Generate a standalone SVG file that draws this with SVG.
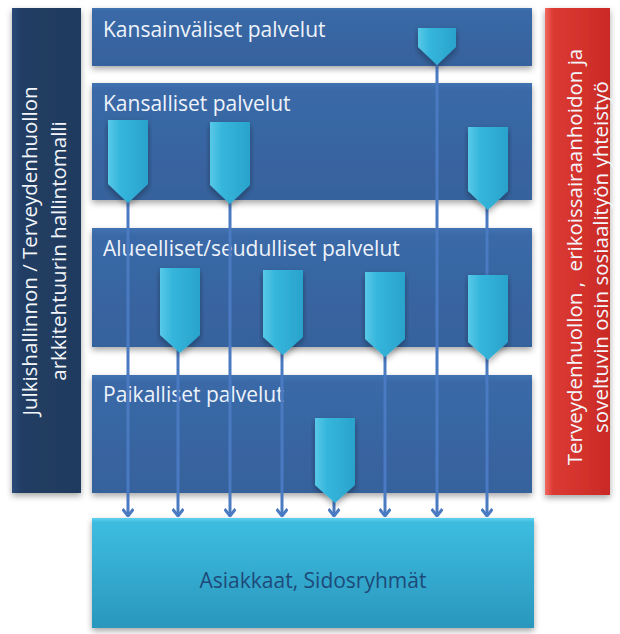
<svg xmlns="http://www.w3.org/2000/svg" width="620" height="634" viewBox="0 0 620 634">
<defs>
<linearGradient id="gBand" x1="0" y1="0" x2="0" y2="1">
<stop offset="0" stop-color="#4273b3"/>
<stop offset="0.06" stop-color="#3a69a7"/>
<stop offset="1" stop-color="#36629c"/>
</linearGradient>
<linearGradient id="gLeft" x1="0" y1="0" x2="1" y2="0">
<stop offset="0" stop-color="#2a4a78"/>
<stop offset="0.15" stop-color="#213d63"/>
<stop offset="1" stop-color="#1f3a5e"/>
</linearGradient>
<linearGradient id="gRed" x1="0" y1="0" x2="1" y2="0">
<stop offset="0" stop-color="#f06a60"/>
<stop offset="0.12" stop-color="#dc3a33"/>
<stop offset="1" stop-color="#c92a26"/>
</linearGradient>
<linearGradient id="gBottom" x1="0" y1="0" x2="0" y2="1">
<stop offset="0" stop-color="#5fd0ee"/>
<stop offset="0.04" stop-color="#3dbce0"/>
<stop offset="1" stop-color="#2a97bd"/>
</linearGradient>
<linearGradient id="gChev" x1="0" y1="0" x2="1" y2="0">
<stop offset="0" stop-color="#58c9e8"/>
<stop offset="0.3" stop-color="#35b6dc"/>
<stop offset="1" stop-color="#2aa3cc"/>
</linearGradient>
<filter id="sh" x="-10%" y="-10%" width="120%" height="130%">
<feDropShadow dx="0" dy="3" stdDeviation="3" flood-color="#000" flood-opacity="0.35"/>
</filter>
<marker id="ah" markerWidth="12" markerHeight="12" viewBox="0 0 12 12" refX="11" refY="6" orient="auto" markerUnits="userSpaceOnUse">
<path d="M4,0.5 L11,6 L4,11.5" fill="none" stroke="#4a7ac2" stroke-width="3" stroke-linejoin="miter"/>
</marker>
<style>
.band{fill:url(#gBand);filter:url(#sh)}
.bt{font-family:"Open Sans","Liberation Sans",sans-serif;font-size:21px;fill:#eef3fb}
.vt{font-family:"Open Sans","Liberation Sans",sans-serif;font-size:20.5px;fill:#f3f6fb;text-anchor:middle}
.cn{stroke:#4a7ac2;stroke-width:3;fill:none}
.chev{fill:url(#gChev);filter:url(#sh)}
</style>
</defs>
<rect width="620" height="634" fill="#ffffff"/>

<g id="side-left">
<rect x="12" y="8" width="69" height="485" fill="url(#gLeft)" filter="url(#sh)"/>
<text class="vt" transform="translate(50,251) rotate(-90)"><tspan x="0" y="-13">Julkishallinnon / Terveydenhuollon</tspan><tspan x="0" y="16">arkkitehtuurin hallintomalli</tspan></text>
</g>

<g id="side-right">
<rect x="545" y="8" width="65" height="487" fill="url(#gRed)" filter="url(#sh)"/>
<text class="vt" xml:space="preserve" transform="translate(595,257) rotate(-90)"><tspan x="0" y="-13">Terveydenhuollon ,  erikoissairaanhoidon ja</tspan><tspan x="0" y="13">soveltuvin osin sosiaalityön yhteistyö</tspan></text>
</g>

<g id="band-international">
<rect class="band" x="92" y="8" width="440" height="58"/>
<text class="bt" x="103" y="37">Kansainväliset palvelut</text>
</g>

<g id="band-national">
<rect class="band" x="92" y="83" width="440" height="117"/>
<text class="bt" x="103" y="111">Kansalliset palvelut</text>
</g>

<g id="band-regional">
<rect class="band" x="92" y="228" width="440" height="119"/>
<text class="bt" x="103" y="256">Alueelliset/seudulliset palvelut</text>
</g>

<g id="band-local">
<rect class="band" x="92" y="375" width="440" height="118"/>
<text class="bt" x="103" y="402">Paikalliset palvelut</text>
</g>

<g id="customers">
<rect x="92" y="518" width="442" height="110" fill="url(#gBottom)" filter="url(#sh)"/>
<text x="313" y="588" text-anchor="middle" font-family="'Open Sans','Liberation Sans',sans-serif" font-size="21" fill="#1e4a7a">Asiakkaat, Sidosryhmät</text>
</g>

<g id="connectors">
<line class="cn" x1="128" y1="200" x2="128" y2="516" marker-end="url(#ah)"/>
<line class="cn" x1="178" y1="350" x2="178" y2="516" marker-end="url(#ah)"/>
<line class="cn" x1="230" y1="200" x2="230" y2="516" marker-end="url(#ah)"/>
<line class="cn" x1="282" y1="350" x2="282" y2="516" marker-end="url(#ah)"/>
<line class="cn" x1="334" y1="495" x2="334" y2="516" marker-end="url(#ah)"/>
<line class="cn" x1="385" y1="350" x2="385" y2="516" marker-end="url(#ah)"/>
<line class="cn" x1="437" y1="60" x2="437" y2="516" marker-end="url(#ah)"/>
<line class="cn" x1="487" y1="205" x2="487" y2="516" marker-end="url(#ah)"/>
</g>

<g id="chevrons">
<path class="chev" d="M418,28 H456 V47 L437,65 L418,47 Z"/>
<path class="chev" d="M108,120 H148 V184 L128,203 L108,184 Z"/>
<path class="chev" d="M210,122 H250 V185 L230,204 L210,185 Z"/>
<path class="chev" d="M468,127 H508 V191 L488,210 L468,191 Z"/>
<path class="chev" d="M160,268 H200 V335 L180,353 L160,335 Z"/>
<path class="chev" d="M263,270 H303 V337 L283,355 L263,337 Z"/>
<path class="chev" d="M365,272 H405 V339 L385,357 L365,339 Z"/>
<path class="chev" d="M468,275 H508 V342 L488,360 L468,342 Z"/>
<path class="chev" d="M315,418 H355 V485 L335,503 L315,485 Z"/>
</g>
</svg>
